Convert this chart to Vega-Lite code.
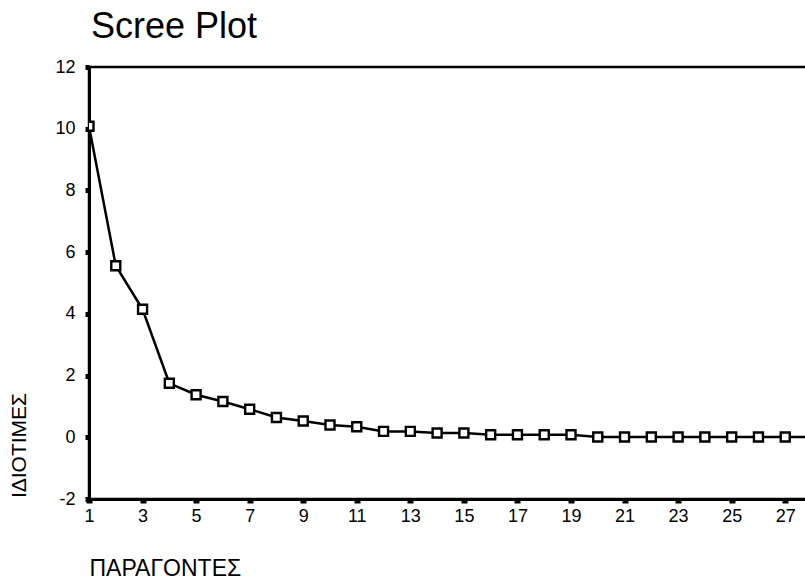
{
  "$schema": "https://vega.github.io/schema/vega-lite/v6.json",
  "autosize": {"type": "none"},
  "padding": {"left": 89, "top": 67, "right": 0, "bottom": 83},
  "width": 723,
  "height": 432,
  "background": "white",
  "config": {
    "font": "Liberation Sans",
    "view": {"stroke": "black", "strokeWidth": 2.5},
    "axis": {"domainColor": "black", "domainWidth": 3, "tickColor": "black", "labelColor": "black", "titleColor": "black", "labelFont": "Liberation Sans", "titleFont": "Liberation Sans", "titleFontWeight": "normal", "grid": false}
  },
  "title": {"text": "Scree Plot", "anchor": "start", "frame": "group", "fontSize": 36, "fontWeight": "normal", "font": "Liberation Sans", "color": "black", "offset": 12, "dx": 2},
  "data": {"values": [
    {"factor": 1, "eigen": 10.08},
    {"factor": 2, "eigen": 5.56},
    {"factor": 3, "eigen": 4.15},
    {"factor": 4, "eigen": 1.75},
    {"factor": 5, "eigen": 1.38},
    {"factor": 6, "eigen": 1.16},
    {"factor": 7, "eigen": 0.91},
    {"factor": 8, "eigen": 0.64},
    {"factor": 9, "eigen": 0.53},
    {"factor": 10, "eigen": 0.4},
    {"factor": 11, "eigen": 0.34},
    {"factor": 12, "eigen": 0.19},
    {"factor": 13, "eigen": 0.19},
    {"factor": 14, "eigen": 0.14},
    {"factor": 15, "eigen": 0.14},
    {"factor": 16, "eigen": 0.08},
    {"factor": 17, "eigen": 0.08},
    {"factor": 18, "eigen": 0.08},
    {"factor": 19, "eigen": 0.08},
    {"factor": 20, "eigen": 0.01},
    {"factor": 21, "eigen": 0.01},
    {"factor": 22, "eigen": 0.01},
    {"factor": 23, "eigen": 0.01},
    {"factor": 24, "eigen": 0.01},
    {"factor": 25, "eigen": 0.01},
    {"factor": 26, "eigen": 0.01},
    {"factor": 27, "eigen": 0.01},
    {"factor": 28, "eigen": 0.01}
  ]},
  "encoding": {
    "x": {"field": "factor", "type": "quantitative", "scale": {"domain": [1, 28], "nice": false, "zero": false},
      "axis": {"values": [1,3,5,7,9,11,13,15,17,19,21,23,25,27], "title": "ΠΑΡΑΓΟΝΤΕΣ", "labelFontSize": 18, "labelPadding": 4, "tickSize": 4, "tickWidth": 6, "titleFontSize": 23, "titleX": 0, "titleY": 69, "titleAlign": "left", "titleBaseline": "middle", "labelFlush": false}},
    "y": {"field": "eigen", "type": "quantitative", "scale": {"domain": [-2, 12], "nice": false, "zero": false},
      "axis": {"values": [-2,0,2,4,6,8,10,12], "labelExpr": "toString(datum.value)", "title": "ΙΔΙΟΤΙΜΕΣ", "labelFontSize": 18, "labelPadding": 10, "tickSize": 4, "tickWidth": 5, "titleFontSize": 21, "titleX": -70, "titleY": 378, "titleAlign": "center", "titleBaseline": "middle", "titleAngle": -90, "labelFlush": false}}
  },
  "layer": [
    {"mark": {"type": "line", "color": "black", "strokeWidth": 2.5, "clip": true}},
    {"mark": {"type": "point", "shape": "square", "size": 81, "filled": false, "fill": "white", "fillOpacity": 1, "stroke": "black", "strokeWidth": 2.4, "opacity": 1, "clip": true}}
  ]
}
